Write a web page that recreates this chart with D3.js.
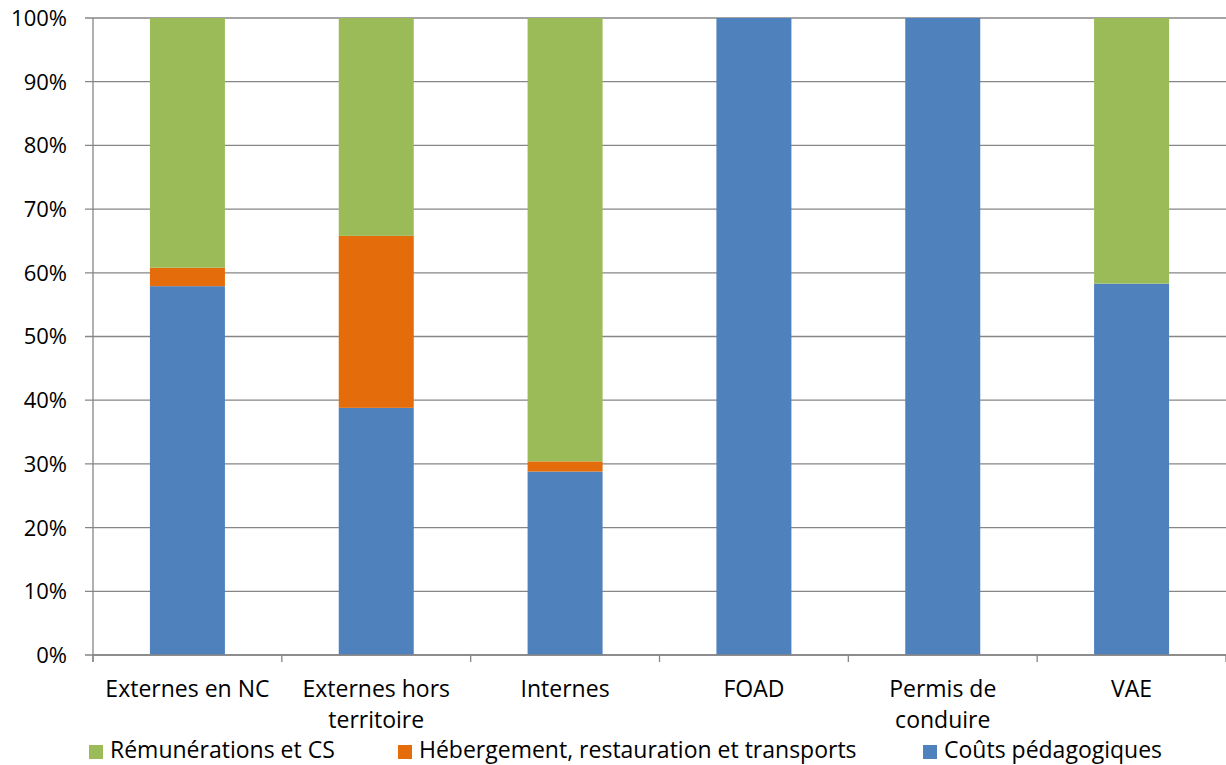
<!DOCTYPE html>
<html><head><meta charset="utf-8">
<script src="https://cdn.jsdelivr.net/npm/d3@7"></script>
<style>body{margin:0;background:#fff}svg{display:block}text{font-family:"Open Sans",Lato,sans-serif;fill:#000}</style>
</head><body><svg id="c" width="1226" height="765"></svg>
<script>
const categories = [["Externes en NC"],["Externes hors","territoire"],["Internes"],["FOAD"],["Permis de","conduire"],["VAE"]];
const couts = [57.9, 38.8, 28.8, 100, 100, 58.3];
const hebergement = [2.9, 27.0, 1.6, 0, 0, 0];
const remunerations = [39.2, 34.2, 69.6, 0, 0, 41.7];
const seriesNames = ["Coûts pédagogiques","Hébergement, restauration et transports","Rémunérations et CS"];
const colors = ["#4f81bd","#e46c0a","#9bbb59"];
const yTicks = [0,10,20,30,40,50,60,70,80,90,100];

const svg = d3.select("#c");
const L=93, R=1226, T=18, B=655;
const band = d3.scaleBand().domain(d3.range(categories.length)).range([L,R]);
const y = d3.scaleLinear().domain([0,100]).range([B,T]);

svg.append("g").selectAll("line").data(yTicks).join("line")
  .attr("x1",L-8).attr("x2",R).attr("y1",d=>y(d)).attr("y2",d=>y(d))
  .attr("stroke","#868686").attr("stroke-width",1.3);
svg.append("g").selectAll("text").data(yTicks).join("text")
  .attr("x",67).attr("y",d=>y(d)).attr("dy","0.36em").attr("text-anchor","end")
  .style("font-size","22px").text(d=>d+"%");

const data = categories.map((c,i)=>({i, v:[couts[i],hebergement[i],remunerations[i]]}));
const st = d3.stack().keys([0,1,2]).value((d,k)=>d.v[k])(data);
svg.append("g").selectAll("g").data(st).join("g").attr("fill",(d,k)=>colors[k])
  .selectAll("rect").data(d=>d).join("rect")
  .attr("x",d=>band(d.data.i)+band.bandwidth()/2-37.5).attr("width",75)
  .attr("y",d=>y(d[1])).attr("height",d=>Math.max(0,y(d[0])-y(d[1])));

svg.append("line").attr("x1",L).attr("x2",L).attr("y1",T).attr("y2",B+7).attr("stroke","#868686").attr("stroke-width",1.3);
svg.append("line").attr("x1",L).attr("x2",R).attr("y1",B).attr("y2",B).attr("stroke","#868686").attr("stroke-width",1.3);
svg.append("g").selectAll("line").data(d3.range(categories.length+1)).join("line")
  .attr("x1",d=>L+d*band.step()).attr("x2",d=>L+d*band.step()).attr("y1",B).attr("y2",B+7)
  .attr("stroke","#868686").attr("stroke-width",1.3);

svg.append("g").selectAll("text").data(categories).join("text")
  .attr("text-anchor","middle").style("font-size","23px")
  .each(function(c,i){
    const t=d3.select(this);
    c.forEach((line,j)=>t.append("tspan").attr("x",band(i)+band.bandwidth()/2).attr("y",697+j*31).text(line));
  });

const legend = [{n:"Rémunérations et CS",c:colors[2],x:89},{n:"Hébergement, restauration et transports",c:colors[1],x:398},{n:"Coûts pédagogiques",c:colors[0],x:923}];
const lg = svg.append("g").selectAll("g").data(legend).join("g");
lg.append("rect").attr("x",d=>d.x).attr("y",745).attr("width",14).attr("height",14).attr("fill",d=>d.c);
lg.append("text").attr("x",d=>d.x+21).attr("y",758).style("font-size","23px").text(d=>d.n);
</script></body></html>
